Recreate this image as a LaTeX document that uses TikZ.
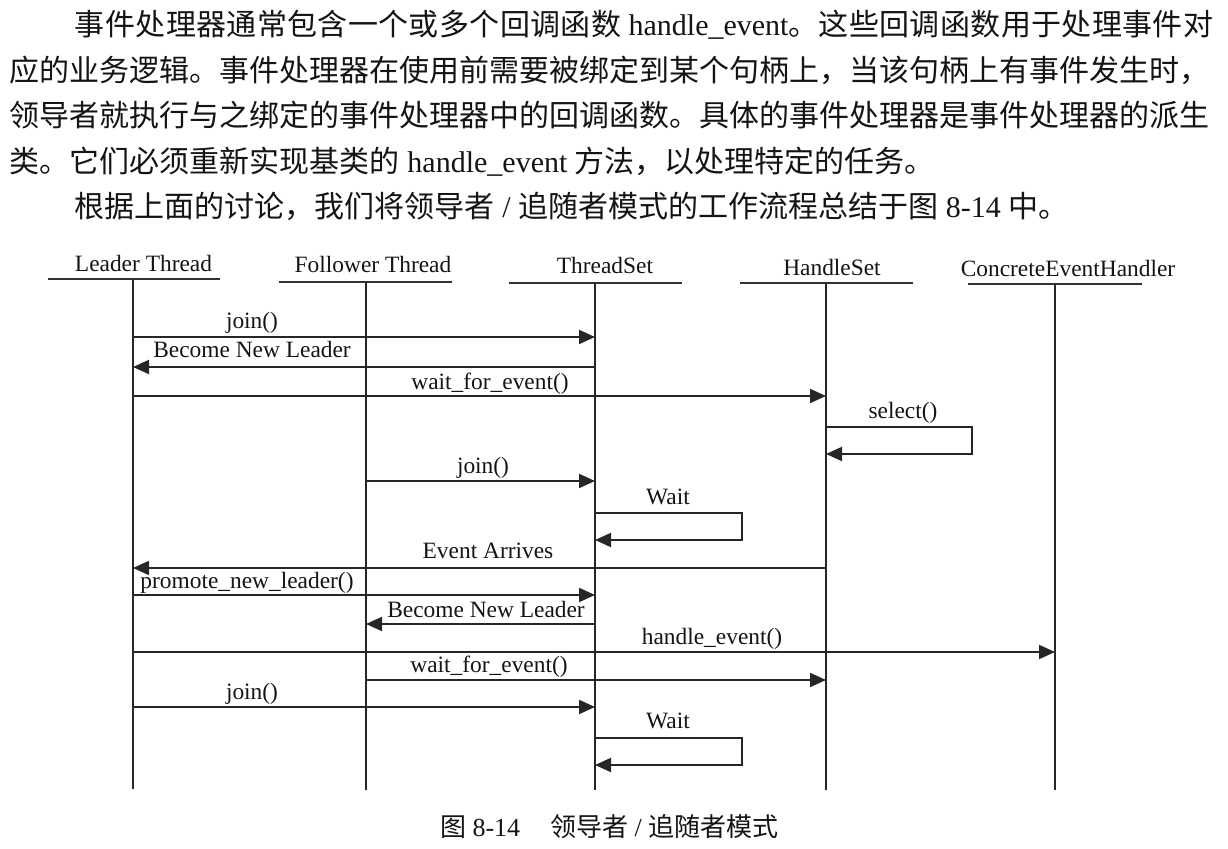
\documentclass[tikz,border=0pt]{standalone}
\usepackage{fontspec}
\setmainfont{Liberation Serif}
\newfontfamily\cjk{Noto Sans CJK SC}
\newfontfamily\cjkwide[LetterSpace=1.2]{Noto Sans CJK SC}
\usetikzlibrary{arrows.meta}

\begin{document}
\begin{tikzpicture}[x=0.5pt,y=-0.5pt,
  every node/.style={inner sep=0pt, outer sep=0pt, text=black!92},
  para/.style={anchor=base west, font=\fontsize{15}{18}\selectfont},
  head/.style={anchor=base, font=\fontsize{11.7}{14}\selectfont},
  lbl/.style={anchor=base, font=\fontsize{11.7}{14}\selectfont},
  capt/.style={anchor=base west, font=\fontsize{13}{16}\selectfont},
  rule/.style={draw=black!80, line width=0.95pt},
  life/.style={draw=black!85, line width=0.95pt},
  msg/.style={draw=black!85, line width=0.95pt, -{Triangle[length=8pt,width=7pt]}}]
\useasboundingbox (0,0) rectangle (1228,849);

% ---- running text above the figure ----
\node[para] (p1) at (75,36) {{\cjkwide 事件处理器通常包含一个或多个回调函数} handle\_event{\cjkwide 。这些回调函数用于处理事件对}};
\node[para] (p2) at (10,81.5) {\cjk 应的业务逻辑。事件处理器在使用前需要被绑定到某个句柄上，当该句柄上有事件发生时，};
\node[para] (p3) at (10,127) {\cjk 领导者就执行与之绑定的事件处理器中的回调函数。具体的事件处理器是事件处理器的派生};
\node[para] (p4) at (10,172.5) {{\cjk 类。它们必须重新实现基类的} handle\_event {\cjk 方法，以处理特定的任务。}};
\node[para] (p5) at (75,218) {{\cjk 根据上面的讨论，我们将领导者} / {\cjk 追随者模式的工作流程总结于图} 8-14 {\cjk 中。}};

% ---- participants ----
\node[head] (hL)  at (143.5,272) {Leader Thread};
\node[head] (hF)  at (373,273)   {Follower Thread};
\node[head] (hTS) at (605,274)   {ThreadSet};
\node[head] (hHS) at (832,276)   {HandleSet};
\node[head] (hCE) at (1068,277)  {ConcreteEventHandler};

\draw[rule] (48,279)  -- (220,279);
\draw[rule] (279,282) -- (452,282);
\draw[rule] (509,283) -- (682,283);
\draw[rule] (740,283) -- (913,283);
\draw[rule] (968,284) -- (1142,284);

% lifelines
\coordinate (L)  at (133,279);  \coordinate (Lb)  at (133,789);
\coordinate (F)  at (366,282);  \coordinate (Fb)  at (366,790);
\coordinate (TS) at (595,283);  \coordinate (TSb) at (595,790);
\coordinate (HS) at (826,283);  \coordinate (HSb) at (826,790);
\coordinate (CE) at (1055,284); \coordinate (CEb) at (1055,790);
\foreach \a/\b in {L/Lb,F/Fb,TS/TSb,HS/HSb,CE/CEb} \draw[life] (\a) -- (\b);

% message rows
\coordinate (r1) at (0,337);
\coordinate (r2) at (0,367);
\coordinate (r3) at (0,396);
\coordinate (r5) at (0,481);
\coordinate (r7) at (0,568);
\coordinate (r8) at (0,595);
\coordinate (r9) at (0,624);
\coordinate (r10) at (0,652);
\coordinate (r11) at (0,680);
\coordinate (r12) at (0,707);

% self-call corners
\coordinate (s1) at (972,427); \coordinate (s1b) at (972,454);
\coordinate (w1) at (742,513); \coordinate (w1b) at (742,540);
\coordinate (w2) at (742,738); \coordinate (w2b) at (742,765);

% ---- messages ----
\draw[msg] (r1 -| L) -- (r1 -| TS);
\node[lbl] (m1) at (252,329) {join()};

\draw[msg] (r2 -| TS) -- (r2 -| L);
\node[lbl] (m2) at (252,358) {Become New Leader};

\draw[msg] (r3 -| L) -- (r3 -| HS);
\node[lbl] (m3) at (490,390) {wait\_for\_event()};

\draw[msg] (s1 -| HS) -- (s1) -- (s1b) -- (s1b -| HS);
\node[lbl] (m4) at (903,419) {select()};

\draw[msg] (r5 -| F) -- (r5 -| TS);
\node[lbl] (m5) at (483,474) {join()};

\draw[msg] (w1 -| TS) -- (w1) -- (w1b) -- (w1b -| TS);
\node[lbl] (m6) at (668,505) {Wait};

\draw[msg] (r7 -| HS) -- (r7 -| L);
\node[lbl] (m7) at (488,559) {Event Arrives};

\draw[msg] (r8 -| L) -- (r8 -| TS);
\node[lbl] (m8) at (247,589) {promote\_new\_leader()};

\draw[msg] (r9 -| TS) -- (r9 -| F);
\node[lbl] (m9) at (486,618) {Become New Leader};

\draw[msg] (r10 -| L) -- (r10 -| CE);
\node[lbl] (m10) at (712,645) {handle\_event()};

\draw[msg] (r11 -| F) -- (r11 -| HS);
\node[lbl] (m11) at (489,673) {wait\_for\_event()};

\draw[msg] (r12 -| L) -- (r12 -| TS);
\node[lbl] (m12) at (252,700) {join()};

\draw[msg] (w2 -| TS) -- (w2) -- (w2b) -- (w2b -| TS);
\node[lbl] (m13) at (668,729) {Wait};

% ---- caption ----
\node[capt] (cap) at (440,837) {{\cjk 图} 8-14\hspace{15pt}{\cjk 领导者} / {\cjk 追随者模式}};
\end{tikzpicture}
\end{document}
